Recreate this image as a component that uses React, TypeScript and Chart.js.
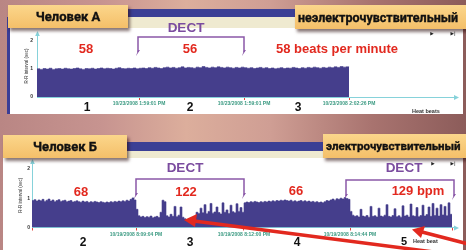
import React, { useEffect, useRef } from 'react';
import { Chart, registerables } from 'chart.js';
Chart.register(...registerables);

// ---- Person A (non-electrosensitive): R-R interval per beat, seconds ----
const aRest1 = [1.00,0.98,1.01,0.99,1.02,0.98,1.00,1.01,0.99,1.02,1.00,0.99,1.01,1.03,1.00,0.98,1.01,1.00,1.02,0.99,1.01,1.03,1.00,1.02,1.01,0.99,1.02,1.04,1.01,1.00,1.02,1.01,1.03,1.00,1.02];
const aDect = [1.03,1.01,1.04,1.02,1.05,1.03,1.01,1.04,1.06,1.03,1.05,1.02,1.04,1.07,1.03,1.05,1.04,1.02,1.06,1.04,1.08,1.05,1.03,1.06,1.04,1.07,1.05,1.03,1.06,1.04,1.02,1.05,1.03,1.06,1.04];
const aRest2 = [1.02,1.04,1.01,1.03,1.05,1.02,1.04,1.01,1.03,1.00,1.02,1.04,1.01,1.03,1.02,1.05,1.03,1.01,1.04,1.02,1.05,1.03,1.06,1.04,1.02,1.05,1.03,1.06,1.04,1.07,1.05,1.08,1.06,1.07];
const aBeatAxisMax = 139.3;
const aTickBeats = [34, 69, 104];
const aTickLabels = ['10/23/2008 1:59:01 PM', '10/23/2008 1:59:01 PM', '10/23/2008 2:02:26 PM'];

// ---- Person B (electrosensitive) ----
const bRest1 = [0.92,0.95,0.90,0.94,0.91,0.96,0.89,0.93,0.97,0.90,0.94,0.88,0.92,0.95,0.89,0.91,0.93,0.88,0.90,0.92,0.87,0.89,0.91,0.88,0.86,0.90,0.87,0.89,0.85,0.88,0.86,0.89,0.87,0.85,0.88,0.86,0.84,0.87,0.85,0.88,0.86,0.89,0.87,0.90,0.88,0.91,0.89,0.93,0.90,0.96,1.01,0.94];
const bDect1 = [0.62,0.40,0.36,0.38,0.34,0.37,0.35,0.39,0.33,0.36,0.38,0.34,0.52,0.93,0.88,0.40,0.36,0.45,0.38,0.72,0.37,0.42,0.70,0.35,0.30,0.27,0.29,0.26,0.30,0.28,0.52,0.48,0.66,0.50,0.78,0.47,0.55,0.82,0.49,0.53,0.70,0.51,0.46,0.84,0.52,0.60,0.48,0.76,0.54,0.50,0.81,0.55,0.68,0.52];
const bRest2 = [0.84,0.87,0.85,0.88,0.86,0.89,0.87,0.85,0.88,0.86,0.89,0.87,0.90,0.88,0.91,0.89,0.92,0.90,0.93,0.91,0.94,0.92,0.90,0.93,0.89,0.91,0.88,0.90,0.92,0.89,0.91,0.88,0.90,0.87,0.89,0.86,0.88,0.85,0.87,0.84,0.88,0.92,0.90,0.94,0.97,0.93,0.98,0.96,1.00,0.97,1.02,0.99,0.96];
const bDect2 = [0.55,0.42,0.38,0.40,0.36,0.62,0.39,0.37,0.41,0.35,0.72,0.38,0.40,0.36,0.66,0.39,0.37,0.42,0.78,0.38,0.36,0.41,0.64,0.37,0.40,0.35,0.74,0.39,0.42,0.36,0.80,0.40,0.38,0.68,0.37,0.41,0.76,0.39,0.44,0.70,0.38,0.82,0.41,0.66,0.39,0.78,0.43,0.72,0.40,0.84,0.45];
const bBeatAxisMax = 211.5;
const bTickBeats = [0, 52, 106, 159, 210];
const bTickLabels = ['', '10/19/2008 8:09:04 PM', '10/19/2008 8:12:00 PM', '10/19/2008 8:14:44 PM', ''];

const yTickValues = [0, 1, 2];
const yMax = 2.2;

const FILL = '#453e8c';
const AXIS = '#86d2da';

const axisArrows = {
  id: 'axisArrows',
  afterDraw(chart: any) {
    const { ctx, chartArea } = chart;
    const { left, right, top, bottom } = chartArea;
    ctx.save();
    ctx.fillStyle = AXIS;
    ctx.beginPath();
    ctx.moveTo(left + 0.5, top - 4);
    ctx.lineTo(left - 1.8, top + 1);
    ctx.lineTo(left + 2.8, top + 1);
    ctx.closePath();
    ctx.fill();
    ctx.beginPath();
    ctx.moveTo(right + 4, bottom + 0.5);
    ctx.lineTo(right - 1, bottom - 2);
    ctx.lineTo(right - 1, bottom + 3);
    ctx.closePath();
    ctx.fill();
    ctx.restore();
  },
};

function makeConfig(values: number[], xMax: number, tickBeats: number[], tickLabels: string[], pad: any, yWidth: number, yPad: number) {
  const pts = values.map((v, i) => ({ x: i, y: v }));
  pts.push({ x: values.length, y: values[values.length - 1] });
  return {
    type: 'line' as const,
    data: {
      datasets: [{
        data: pts,
        stepped: true,
        fill: 'origin',
        backgroundColor: FILL,
        borderColor: FILL,
        borderWidth: 0.6,
        pointRadius: 0,
      }],
    },
    options: {
      responsive: false,
      animation: false as const,
      layout: { padding: pad },
      plugins: { legend: { display: false }, tooltip: { enabled: false } },
      scales: {
        x: {
          type: 'linear' as const,
          min: 0,
          max: xMax,
          afterBuildTicks: (s: any) => { s.ticks = tickBeats.map((v) => ({ value: v })); },
          afterFit: (s: any) => { s.height = 11; },
          grid: { display: true, drawOnChartArea: false, drawTicks: true, tickLength: 3, color: '#e0453a', lineWidth: 1 },
          border: { display: true, color: AXIS, width: 1 },
          ticks: {
            autoSkip: false, maxRotation: 0, minRotation: 0, padding: 1,
            font: { size: 5, weight: 'bold', family: 'Liberation Sans' }, color: '#3b9a82',
            callback: (_v: any, i: number) => tickLabels[i],
          },
        },
        y: {
          type: 'linear' as const,
          min: 0,
          max: yMax,
          afterBuildTicks: (s: any) => { s.ticks = yTickValues.map((v) => ({ value: v })); },
          afterFit: (s: any) => { s.width = yWidth; },
          grid: { display: false, drawTicks: false, tickLength: 0 },
          border: { display: true, color: AXIS, width: 1 },
          ticks: { autoSkip: false, padding: yPad, font: { size: 5, weight: 'bold', family: 'Liberation Sans' }, color: '#333', callback: (v: any) => String(v) },
          title: { display: true, text: 'R-R interval (sec)', padding: 0, font: { size: 4.5, family: 'Liberation Sans' }, color: '#333' },
        },
      },
    },
    plugins: [axisArrows],
  };
}

const T = ({ x, y, text, size, color = '#111', weight = 700, family = 'Liberation Sans', anchor = 'center' }: any) => (
  <div style={{
    position: 'absolute', left: x, top: y, transform: anchor === 'left' ? 'translate(0,-50%)' : 'translate(-50%,-50%)',
    fontSize: size, color, fontWeight: weight, fontFamily: family, whiteSpace: 'nowrap', lineHeight: 1,
  }}>{text}</div>
);

const box = (left: number, top: number, width: number, height: number): React.CSSProperties => ({
  position: 'absolute', left, top, width, height,
  background: 'linear-gradient(#fbd68b, #f4bf69)',
  boxShadow: '2px 3px 3px rgba(40,10,10,0.55)',
  display: 'flex', alignItems: 'center', justifyContent: 'center',
  fontFamily: 'Roboto', fontWeight: 700, color: '#111', whiteSpace: 'nowrap',
  WebkitTextStroke: '0.35px #111',
});

export default function App() {
  const topRef = useRef<HTMLCanvasElement>(null);
  const botRef = useRef<HTMLCanvasElement>(null);

  useEffect(() => {
    const a = new Chart(topRef.current as HTMLCanvasElement, makeConfig(
      [...aRest1, ...aDect, ...aRest2], aBeatAxisMax, aTickBeats, aTickLabels,
      { left: 16, right: 5, top: 5.2, bottom: 8 }, 13, 4) as any);
    const b = new Chart(botRef.current as HTMLCanvasElement, makeConfig(
      [...bRest1, ...bDect1, ...bRest2, ...bDect2], bBeatAxisMax, bTickBeats, bTickLabels,
      { left: 13, right: 5, top: 4.6, bottom: 7.5 }, 14, 2) as any);
    return () => { a.destroy(); b.destroy(); };
  }, []);

  const purple = '#8a58a8';
  const red = '#e2291f';

  return (
    <div style={{
      position: 'fixed', left: 0, top: 0, width: 466, height: 250, overflow: 'hidden',
      background: 'linear-gradient(90deg, #b98684 0%, #c79490 22%, #dcae9c 40%, #cf9e94 58%, #a8736f 80%, #8c5c5a 100%)',
    }}>
      {/* ---- top panel ---- */}
      <div style={{ position: 'absolute', left: 128, top: 9, width: 170, height: 9, background: '#3b3f95' }} />
      <div style={{ position: 'absolute', left: 8, top: 17, width: 455, height: 11, background: '#efead0' }} />
      <div style={{ position: 'absolute', left: 8, top: 28, width: 455, height: 86, background: '#fff' }} />
      <div style={{ position: 'absolute', left: 7, top: 17, width: 2.5, height: 97, background: '#3b3d96' }} />
      <canvas ref={topRef} width={452} height={88} style={{ position: 'absolute', left: 8, top: 28, width: 452, height: 88 }} />
      <div style={{ ...box(8, 5, 120, 23), fontSize: 13 }}>Человек А</div>
      <div style={{ ...box(295, 5, 175, 24), fontSize: 12.5, justifyContent: 'flex-start', paddingLeft: 3, boxSizing: 'border-box' }}>неэлектрочувствительный</div>
      <T x={186} y={28} text="DECT" size={13.5} color="#7b4c9f" />
      <T x={86} y={48} text="58" size={13} color={red} />
      <T x={190} y={48} text="56" size={13} color={red} />
      <T x={337} y={48} text="58 beats per minute" size={13} color={red} />
      <T x={87} y={107} text="1" size={12} />
      <T x={190} y={107} text="2" size={12} />
      <T x={298} y={107} text="3" size={12} />
      <T x={412} y={112} text="Heat beats" size={5.5} color="#333" anchor="left" />
      <T x={432} y={34} text="▶" size={4.5} color="#222" family="DejaVu Sans" />
      <T x={453} y={34} text="▶|" size={4.5} color="#222" family="DejaVu Sans" />

      {/* ---- bottom panel ---- */}
      <div style={{ position: 'absolute', left: 127, top: 142, width: 200, height: 10, background: '#3b3f95' }} />
      <div style={{ position: 'absolute', left: 3, top: 151, width: 460, height: 7, background: '#efead0' }} />
      <div style={{ position: 'absolute', left: 3, top: 158, width: 460, height: 92, background: '#fff' }} />
      <canvas ref={botRef} width={455} height={88} style={{ position: 'absolute', left: 5, top: 158, width: 455, height: 88 }} />
      <div style={{ ...box(3, 135, 124, 23), fontSize: 13 }}>Человек Б</div>
      <div style={{ ...box(323, 134, 147, 24), fontSize: 11.5, justifyContent: 'flex-start', paddingLeft: 3, boxSizing: 'border-box' }}>электрочувствительный</div>
      <T x={185} y={168} text="DECT" size={13.5} color="#7b4c9f" />
      <T x={404} y={168} text="DECT" size={13.5} color="#7b4c9f" />
      <T x={81} y={191} text="68" size={13} color={red} />
      <T x={186} y={191} text="122" size={13} color={red} />
      <T x={296} y={190} text="66" size={13} color={red} />
      <T x={418} y={190} text="129 bpm" size={13} color={red} />
      <T x={83} y={242} text="2" size={12} />
      <T x={190} y={242} text="3" size={12} />
      <T x={297} y={242} text="4" size={12} />
      <T x={404} y={241} text="5" size={11} />
      <T x={413} y={242} text="Heat beat" size={5.5} color="#333" anchor="left" />
      <T x={433} y={164} text="▶" size={4.5} color="#222" family="DejaVu Sans" />
      <T x={453} y={164} text="▶|" size={4.5} color="#222" family="DejaVu Sans" />

      {/* brackets and arrows */}
      <svg width={466} height={250} style={{ position: 'absolute', left: 0, top: 0 }}>
        <g stroke={purple} strokeWidth={1.5} fill="none">
          <polyline points="138,52 138,37 244,37 244,52" />
          <polyline points="136,195 136,179 244,179 244,195" />
          <polyline points="346,196 346,180 454,180 454,196" />
        </g>
        <g fill={purple}>
          <polygon points="136,56 138,50 140,50" />
          <polygon points="242,56 244,50 246,50" />
          <polygon points="134,199 136,193 138,193" />
          <polygon points="242,199 244,193 246,193" />
          <polygon points="344,200 346,194 348,194" />
          <polygon points="452,200 454,194 456,194" />
        </g>
        <g stroke={red} strokeWidth={3.5} strokeLinecap="round">
          <line x1={480} y1={258} x2={194} y2={221} />
          <line x1={480} y1={247} x2={422} y2={232} />
        </g>
        <g fill={red}>
          <polygon points="184,220 197,214 195,227" />
          <polygon points="412,229.5 425,226 421,238" />
        </g>
      </svg>
    </div>
  );
}
